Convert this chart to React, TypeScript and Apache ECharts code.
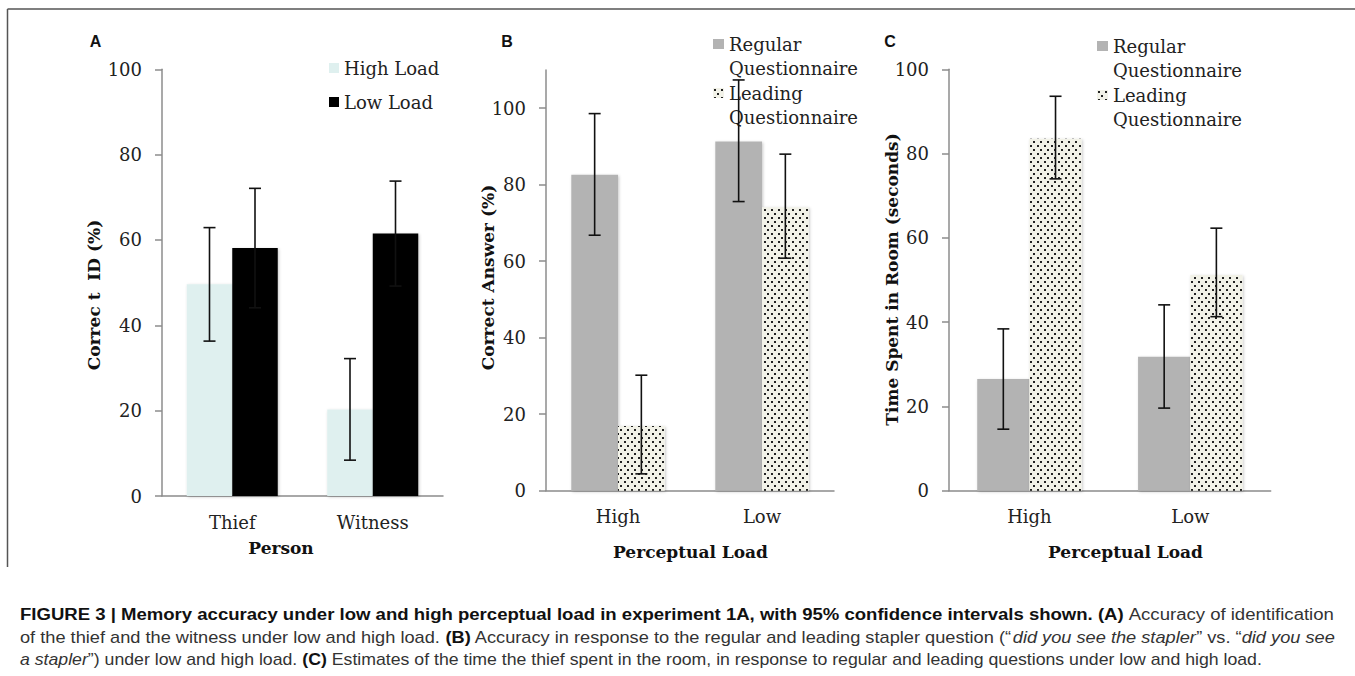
import React, { useEffect, useRef } from 'react';
import * as echarts from 'echarts';

// ---------- data ----------
const personCats = ['Thief', 'Witness'];
const loadCats = ['High', 'Low'];
const tickValues = [0, 20, 40, 60, 80, 100];

// Panel A: correct ID (%)
const highLoadA = [49.6, 20.3];
const lowLoadA = [58.1, 61.5];
const highLoadACI = [[36.3, 62.9], [8.4, 32.2]];
const lowLoadACI = [[44.1, 72.1], [49.2, 73.8]];

// Panel B: correct answer (%)
const regularB = [82.6, 91.3];
const leadingB = [16.9, 74.1];
const regularBCI = [[66.8, 98.6], [75.6, 107.4]];
const leadingBCI = [[4.4, 30.2], [60.8, 88.0]];

// Panel C: time spent in room (seconds)
const regularC = [26.5, 31.8];
const leadingC = [83.5, 51.2];
const regularCCI = [[14.6, 38.4], [19.6, 44.1]];
const leadingCCI = [[74.0, 93.6], [41.3, 62.3]];

const legendA = ['High Load', 'Low Load'];
const legendBC = ['Regular\nQuestionnaire', 'Leading\nQuestionnaire'];

const captionLines: [string, string][][] = [
  [
    ['b', 'FIGURE 3 | Memory accuracy under low and high perceptual load in experiment 1A, with 95% confidence intervals shown. (A)'],
    ['n', ' Accuracy of identification'],
  ],
  [
    ['n', 'of the thief and the witness under low and high load. '],
    ['b', '(B)'],
    ['n', ' Accuracy in response to the regular and leading stapler question (\u201C'],
    ['i', 'did you see the stapler'],
    ['n', '\u201D vs. \u201C'],
    ['i', 'did you see'],
  ],
  [
    ['i', 'a stapler'],
    ['n', '\u201D) under low and high load. '],
    ['b', '(C)'],
    ['n', ' Estimates of the time the thief spent in the room, in response to regular and leading questions under low and high load.'],
  ],
];

// ---------- style ----------
const SERIF = 'DejaVu Serif';
const SANS = 'Liberation Sans';
const AXIS_COLOR = '#8c8c8c';
const LABEL_COLOR = '#222';

export default function App() {
  const ref = useRef<HTMLDivElement>(null);

  useEffect(() => {
    if (!ref.current) return;
    const chart = echarts.init(ref.current, null, { renderer: 'svg' });

    // dotted pattern tile
    const cv = document.createElement('canvas');
    cv.width = 7;
    cv.height = 8;
    const cx = cv.getContext('2d')!;
    cx.fillStyle = '#f2f2e8';
    cx.fillRect(0, 0, 7, 8);
    cx.fillStyle = '#222';
    cx.fillRect(1, 1, 2, 2);
    cx.fillRect(4, 5, 2, 2);
    const dots: any = { image: cv, repeat: 'repeat', imageWidth: 7, imageHeight: 8 };

    const shadow = {
      shadowBlur: 3,
      shadowColor: 'rgba(0,0,0,0.22)',
      shadowOffsetX: 1,
      shadowOffsetY: 1,
    };

    const grids = [
      { left: 162, top: 69.3, width: 281, height: 426.7 },
      { left: 546, top: 70, width: 288, height: 420.7 },
      { left: 949, top: 69.3, width: 321.7, height: 421.4 },
    ];
    const barWidths = [45.5, 46.7, 52.2];
    const yMax = [100, 110, 100];

    const xAxes = [personCats, loadCats, loadCats].map((cats, i) => ({
      type: 'category',
      gridIndex: i,
      data: cats,
      axisLine: { lineStyle: { color: AXIS_COLOR, width: 1.5 } },
      axisTick: { length: 6, lineStyle: { color: AXIS_COLOR, width: 1.5 } },
      axisLabel: { margin: 17, fontFamily: SERIF, fontSize: 18, color: LABEL_COLOR },
    }));

    const yAxes = yMax.map((mx, i) => ({
      type: 'value',
      gridIndex: i,
      min: 0,
      max: mx,
      interval: 20,
      axisLine: { show: true, lineStyle: { color: AXIS_COLOR, width: 1.5 } },
      axisTick: { show: true, length: 7, customValues: tickValues, lineStyle: { color: AXIS_COLOR, width: 1.5 } },
      splitLine: { show: false },
      axisLabel: { margin: 20, customValues: tickValues, fontFamily: SERIF, fontSize: 18, color: LABEL_COLOR },
    }));

    const bar = (name: string, data: number[], gi: number, color: any) => ({
      type: 'bar',
      name,
      xAxisIndex: gi,
      yAxisIndex: gi,
      data,
      barWidth: barWidths[gi],
      barGap: '0%',
      z: 2,
      itemStyle: { color, ...shadow },
      emphasis: { disabled: true },
    });

    const err = (ci: number[][], gi: number, side: number) => ({
      type: 'custom',
      name: 'ci',
      xAxisIndex: gi,
      yAxisIndex: gi,
      data: ci.map((c, i) => [i, c[0], c[1]]),
      z: 5,
      silent: true,
      encode: { x: 0, y: [1, 2] },
      renderItem: (_p: any, api: any) => {
        const lo = api.coord([api.value(0), api.value(1)]);
        const hi = api.coord([api.value(0), api.value(2)]);
        const x = lo[0] + (side * barWidths[gi]) / 2;
        const cap = 6;
        const style = { stroke: '#111', lineWidth: 1.6 };
        return {
          type: 'group',
          children: [
            { type: 'line', shape: { x1: x, y1: lo[1], x2: x, y2: hi[1] }, style },
            { type: 'line', shape: { x1: x - cap, y1: lo[1], x2: x + cap, y2: lo[1] }, style },
            { type: 'line', shape: { x1: x - cap, y1: hi[1], x2: x + cap, y2: hi[1] }, style },
          ],
        };
      },
    });

    const GREY = '#b3b3b3';
    const series = [
      bar(legendA[0], highLoadA, 0, '#dff0ef'),
      bar(legendA[1], lowLoadA, 0, '#000'),
      bar(legendBC[0], regularB, 1, GREY),
      bar(legendBC[1], leadingB, 1, dots),
      bar(legendBC[0], regularC, 2, GREY),
      bar(legendBC[1], leadingC, 2, dots),
      err(highLoadACI, 0, -1),
      err(lowLoadACI, 0, 1),
      err(regularBCI, 1, -1),
      err(leadingBCI, 1, 1),
      err(regularCCI, 2, -1),
      err(leadingCCI, 2, 1),
    ];

    // multi-line legend: a blank leading line keeps the first text line level with the icon
    const LH = 24.5;
    const multiLegend = (left: number, iconC: number) => ({
      data: legendBC,
      orient: 'vertical',
      left,
      top: iconC - (3 * LH) / 2,
      padding: 0,
      itemWidth: 11,
      itemHeight: 10,
      itemGap: 49 - 3 * LH,
      icon: 'rect',
      selectedMode: false,
      formatter: (name: string) => ' \n' + name,
      textStyle: { fontFamily: SERIF, fontSize: 18, color: LABEL_COLOR, lineHeight: LH },
    });

    const legends = [
      {
        data: legendA,
        orient: 'vertical',
        left: 329,
        top: 59,
        padding: 0,
        itemWidth: 10,
        itemHeight: 10,
        itemGap: 16,
        icon: 'rect',
        selectedMode: false,
        textStyle: { fontFamily: SERIF, fontSize: 18, color: LABEL_COLOR },
      },
      multiLegend(713, 44),
      multiLegend(1097, 46),
    ];

    // caption scaling via measurement
    const CAP_FS = 16;
    const mctx = document.createElement('canvas').getContext('2d')!;
    const fontFor = (k: string) =>
      (k === 'b' ? 'bold ' : k === 'i' ? 'italic ' : '') + `${CAP_FS}px "${SANS}"`;
    const captionTargets = [1315, 1315, 1242];
    const captionY = [614, 637, 660];
    const capStyles = {
      b: { fontFamily: SANS, fontSize: CAP_FS, fontWeight: 'bold', fill: '#111' },
      n: { fontFamily: SANS, fontSize: CAP_FS, fill: '#333' },
      i: { fontFamily: SANS, fontSize: CAP_FS, fontStyle: 'italic', fill: '#333' },
    };
    const captionEls = captionLines.map((segs, li) => {
      let w = 0;
      segs.forEach(([k, t]) => {
        mctx.font = fontFor(k);
        w += mctx.measureText(t).width;
      });
      const s = w > 0 ? captionTargets[li] / w : 1;
      return {
        type: 'text',
        x: 20,
        y: captionY[li],
        scaleX: s,
        silent: true,
        style: {
          text: segs.map(([k, t]) => `{${k}|${t}}`).join(''),
          rich: capStyles,
          fontFamily: SANS,
          fontSize: CAP_FS,
          fill: '#333',
          verticalAlign: 'middle',
          align: 'left',
        },
      };
    });

    const panelLabel = (t: string, x: number) => ({
      type: 'text',
      x,
      y: 41,
      silent: true,
      style: { text: t, fontFamily: SANS, fontWeight: 'bold', fontSize: 16, fill: '#111', align: 'center', verticalAlign: 'middle' },
    });
    const xTitle = (t: string, x: number, y: number) => ({
      type: 'text',
      x,
      y,
      silent: true,
      style: { text: t, fontFamily: SERIF, fontWeight: 'bold', fontSize: 17, fill: '#111', align: 'center', verticalAlign: 'middle' },
    });
    const yTitle = (t: string, x: number, y: number) => ({
      type: 'text',
      x,
      y,
      rotation: Math.PI / 2,
      silent: true,
      style: { text: t, fontFamily: SERIF, fontWeight: 'bold', fontSize: 17, fill: '#111', align: 'center', verticalAlign: 'middle' },
    });

    chart.setOption({
      animation: false,
      backgroundColor: '#fff',
      grid: grids,
      xAxis: xAxes,
      yAxis: yAxes,
      legend: legends,
      series,
      graphic: [
        { type: 'line', silent: true, shape: { x1: 7.5, y1: 9, x2: 1355, y2: 9 }, style: { stroke: '#555', lineWidth: 1.5 } },
        { type: 'line', silent: true, shape: { x1: 7.5, y1: 9, x2: 7.5, y2: 567 }, style: { stroke: '#555', lineWidth: 1.5 } },
        panelLabel('A', 95.5),
        panelLabel('B', 507),
        panelLabel('C', 890),
        xTitle('Person', 281, 548),
        xTitle('Perceptual Load', 690.5, 551.7),
        xTitle('Perceptual Load', 1125.5, 551.7),
        yTitle('Correc t  ID (%)', 94, 295),
        yTitle('Correct Answer (%)', 487.7, 277.5),
        yTitle('Time Spent in Room (seconds)', 891.7, 279.5),
        ...captionEls,
      ],
    });

    return () => chart.dispose();
  }, []);

  return (
    <div
      ref={ref}
      style={{ position: 'absolute', left: 0, top: 0, width: 1355, height: 676 }}
    />
  );
}
